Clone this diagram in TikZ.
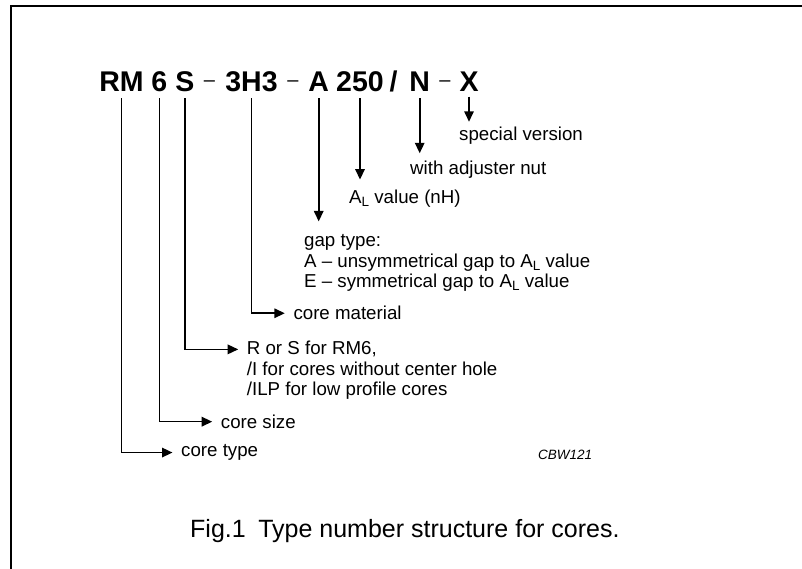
\documentclass[tikz,border=0pt]{standalone}
\usepackage{fontspec}
\setmainfont{Liberation Sans}
\usetikzlibrary{arrows.meta}

\newcommand{\AL}{A\raisebox{-0.35ex}{\fontsize{13.5}{13.5}\selectfont L}}

\tikzset{
  hd/.style = {anchor=base, inner sep=0pt, font=\bfseries\fontsize{28.5}{28.5}\selectfont},
  dsh/.style = {anchor=base, inner sep=0pt, font=\fontsize{20}{20}\selectfont},
  lbl/.style = {anchor=mid west, inner sep=0pt, font=\fontsize{18.7}{20}\selectfont},
  lblb/.style = {anchor=base west, inner sep=0pt, font=\fontsize{18.7}{20}\selectfont},
  ptr/.style = {line width=1.6pt, -{Triangle[length=10.5pt,width=9.5pt]}},
}

\begin{document}
\begin{tikzpicture}[x=1pt, y=-1pt]
\useasboundingbox (0,0) rectangle (802,568);
% frame, only top and left edges fall on the page
\draw[line width=2pt] (11.3,600) -- (11.3,6) -- (830,6);

% type number
\node (rm) at (121.5,91.7) [hd] {RM};
\node (six) at (159.3,91.7) [hd] {6};
\node (s) at (185,91.7) [hd] {S};
\node (d1) at (209.5,91.7) [dsh] {\raisebox{5.5pt}{--}};
\node (mat) at (251.5,91.7) [hd] {3H3};
\node (d2) at (293,91.7) [dsh] {\raisebox{5.5pt}{--}};
\node (a) at (318.7,91.7) [hd] {A};
\node (al) at (360,91.7) [hd] {250};
\node (sl) at (393.5,91.7) [hd] {/};
\node (n) at (419.7,91.7) [hd] {N};
\node (d3) at (445,91.7) [dsh] {\raisebox{5.5pt}{--}};
\node (x) at (469,91.7) [hd] {X};

% labels
\node (spec) at (459,140) [lblb] {special version};
\node (adj) at (410,174) [lblb] {with adjuster nut};
\node (alv) at (349,203.3) [lblb] {\AL{} value (nH)};
\node (gap) at (304,246.7) [lblb] {gap type:};
\node (gapa) at ([yshift=-20.3pt]gap.base west) [lblb] {A -- unsymmetrical gap to \AL{} value};
\node (gape) at ([yshift=-20.3pt]gapa.base west) [lblb] {E -- symmetrical gap to \AL{} value};
\node (cmat) at (293.3,317.3) [lbl] {core material};
\node (rs) at (246.7,352.3) [lbl] {R or S for RM6,};
\node (rs2) at ([yshift=-20.3pt]rs.base west) [lblb] {/I for cores without center hole};
\node (rs3) at ([yshift=-20.3pt]rs2.base west) [lblb] {/ILP for low profile cores};
\node (csize) at (220.7,425.7) [lbl] {core size};
\node (ctype) at (181,454) [lbl] {core type};

\node (code) at (538,459) [anchor=base west, inner sep=0pt, font=\itshape\fontsize{13.5}{13.5}\selectfont] {CBW121};
\node (cap) at (190,537.3) [anchor=base west, inner sep=0pt, font=\fontsize{25}{25}\selectfont] {Fig.1\hspace{0.5em}Type number structure for cores.};

% pointers
\draw[ptr, shorten >=4.5pt] ([yshift=-5pt]x.base) -- (x.base |- spec.north);
\draw[ptr, shorten >=7pt] ([yshift=-6.3pt]n.base) -- (n.base |- adj.north);
\draw[ptr, shorten >=10pt] ([yshift=-6.3pt]al.base) -- (al.base |- alv.north);
\draw[ptr, shorten >=13pt] ([yshift=-6.3pt]a.base) -- (a.base |- gap.north);
\draw[ptr, shorten >=8.5pt] ([yshift=-6.3pt]mat.base) |- (cmat.west);
\draw[ptr, shorten >=8.5pt] ([yshift=-6.3pt]s.base) |- (rs.west);
\draw[ptr, shorten >=8.5pt] ([yshift=-6.3pt]six.base) |- (csize.west);
\draw[ptr, shorten >=8.5pt] ([yshift=-6.3pt]rm.base) |- (ctype.west);
\end{tikzpicture}
\end{document}
